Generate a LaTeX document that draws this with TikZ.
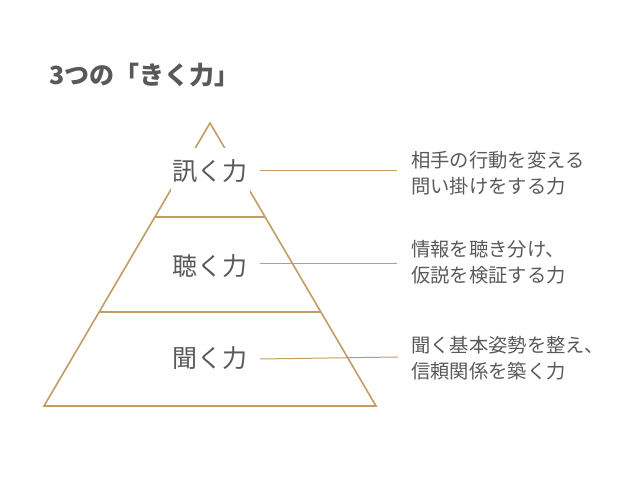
\documentclass[tikz,border=0pt]{standalone}
\usepackage{fontspec}
\newfontfamily\jp{Noto Sans CJK JP}
\definecolor{gold}{HTML}{C19D62}
\definecolor{txt}{HTML}{595959}
\begin{document}
\begin{tikzpicture}[x=1pt,y=1pt,
  gline/.style={draw=gold,line width=1.6pt},
  lvl/.style={font=\jp\fontsize{25}{25}\selectfont,text=txt,fill=white,inner sep=2pt,anchor=center},
  desc/.style={font=\jp\fontsize{19.3}{25.5}\selectfont,text=txt,align=left,anchor=west,inner sep=0pt}]
\useasboundingbox (0,0) rectangle (638,479);
% pyramid geometry (y = 479 - px)
\coordinate (apex) at (210,356);
\coordinate (bl) at (44,73);
\coordinate (br) at (376,73);
\coordinate (l1) at (155,262);
\coordinate (r1) at (265,262);
\coordinate (l2) at (99,167);
\coordinate (r2) at (321,167);
\draw[gline] (apex) -- (bl) -- (br) -- cycle;
\draw[gline] (l1) -- (r1);
\draw[gline] (l2) -- (r2);
% connectors
\coordinate (c1) at (397,308);
\coordinate (c2) at (397,215);
\coordinate (c3) at (398,122);
\node[lvl,minimum height=46pt,inner ysep=0pt] (k1) at (210,308) {訊く力};
\node[lvl,fill=none] (k2) at (210,213) {聴く力};
\node[lvl,fill=none] (k3) at (210,121) {聞く力};
\draw[gline,line width=1pt] ([xshift=10pt]k1.east |- c1) -- (c1);
\draw[gline,line width=1pt] (260,215) -- (c2);
\draw[gline,line width=1pt] (260,120) -- (c3);
% descriptions
\node[desc] (d1) at (411,306) {相手の行動を変える\\問い掛けをする力};
\node[desc] (d2) at (411,217) {情報を聴き分け、\\仮説を検証する力};
\node[desc] (d3) at (411,121) {聞く基本姿勢を整え、\\信頼関係を築く力};
% title
\node[font=\jp\bfseries\fontsize{25}{25}\selectfont,text=txt,anchor=west,inner sep=0pt] (title) at (49,404) {3つの「きく力」};
\end{tikzpicture}
\end{document}
